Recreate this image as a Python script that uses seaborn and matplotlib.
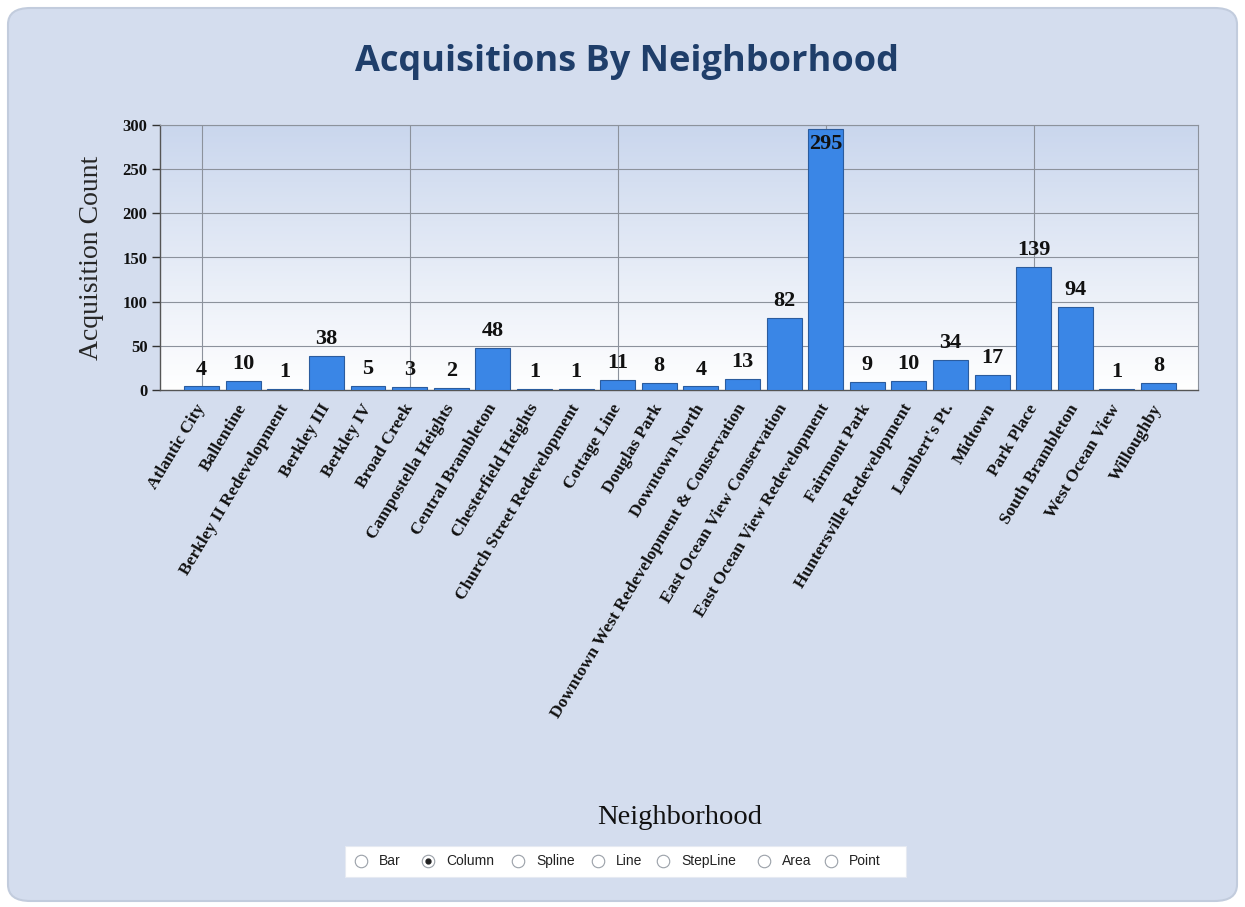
import numpy as np
import pandas as pd
import matplotlib
matplotlib.use("Agg")
import matplotlib.pyplot as plt
import seaborn as sns
from matplotlib.patches import FancyBboxPatch, Rectangle
from matplotlib.lines import Line2D

neighborhoods = [
    "Atlantic City", "Ballentine", "Berkley II Redevelopment", "Berkley III",
    "Berkley IV", "Broad Creek", "Campostella Heights", "Central Brambleton",
    "Chesterfield Heights", "Church Street Redevelopment", "Cottage Line",
    "Douglas Park", "Downtown North", "Downtown West Redevelopment & Conservation",
    "East Ocean View Conservation", "East Ocean View Redevelopment",
    "Fairmont Park", "Huntersville Redevelopment", "Lambert's Pt.", "Midtown",
    "Park Place", "South Brambleton", "West Ocean View", "Willoughby",
]
counts = [4, 10, 1, 38, 5, 3, 2, 48, 1, 1, 11, 8, 4, 13, 82, 295, 9, 10, 34, 17, 139, 94, 1, 8]
y_ticks = [0, 50, 100, 150, 200, 250, 300]
chart_types = ["Bar", "Column", "Spline", "Line", "StepLine", "Area", "Point"]
selected_type = "Column"

df = pd.DataFrame({"Neighborhood": neighborhoods, "Count": counts})

sns.set_theme(style="white")
plt.rcParams["font.family"] = ["Liberation Serif", "DejaVu Serif"]

W, H = 1245, 907
fig = plt.figure(figsize=(W / 100, H / 100), dpi=100)
fig.patch.set_facecolor("white")

# outer rounded panel
panel = FancyBboxPatch((8 / W, 6 / H), 1229 / W, 893 / H,
                       boxstyle="round,pad=0,rounding_size=0.018",
                       transform=fig.transFigure, facecolor="#D4DDEE",
                       edgecolor="#C2CCDD", linewidth=1.5, zorder=-10)
fig.patches.append(panel)

ax = fig.add_axes([160 / W, 1 - 390 / H, 1038 / W, 265 / H])
ax.set_zorder(2)
ax.set_facecolor("none")

# gradient background of plot area
grad = np.linspace(0, 1, 256).reshape(-1, 1)
top_c = np.array([0.79, 0.84, 0.93])
bot_c = np.array([1.0, 1.0, 1.0])
img = top_c[None, None, :] * (1 - grad[:, :, None]) + bot_c[None, None, :] * grad[:, :, None]
ax.imshow(img, extent=[0, 1, 0, 1], transform=ax.transAxes, aspect="auto", zorder=0)

sns.barplot(data=df, x="Neighborhood", y="Count", ax=ax, color="#3A86E6",
            saturation=1, width=0.84, edgecolor="#2B5C9E", linewidth=0.8, zorder=3)

ax.set_xlim(-1, 23.95)
ax.set_ylim(0, 300)
ax.set_yticks(y_ticks)
ax.set_yticklabels([str(v) for v in y_ticks], fontsize=12, fontweight="bold", color="#111111")

ax.set_xticks(range(len(neighborhoods)))
ax.set_xticklabels(neighborhoods, rotation=59, ha="right", va="center",
                   rotation_mode="anchor", fontsize=12.5, fontweight="bold", color="#111111")
ax.tick_params(axis="x", which="major", length=0, pad=11)
ax.set_xticks(range(0, len(neighborhoods), 5), minor=True)
ax.tick_params(axis="x", which="minor", length=8, width=1, color="#333333", direction="out", bottom=True)
ax.tick_params(axis="y", length=6, width=1, color="#333333", direction="out", pad=3, left=True)

for v in y_ticks[1:]:
    ax.axhline(v, color="#8C929C", linewidth=0.8, zorder=1)
for xv in range(0, len(neighborhoods), 5):
    ax.axvline(xv, color="#8C929C", linewidth=0.8, zorder=1)

for s in ["top", "right"]:
    ax.spines[s].set_visible(True)
    ax.spines[s].set_color("#8C929C")
    ax.spines[s].set_linewidth(0.8)
for s in ["left", "bottom"]:
    ax.spines[s].set_color("#555555")
    ax.spines[s].set_linewidth(1.0)

# value labels
for patch, val in zip(ax.patches, counts):
    cx = patch.get_x() + patch.get_width() / 2
    top = patch.get_height()
    if top > 270:
        ax.annotate(str(val), (cx, top), xytext=(0, -3), textcoords="offset points",
                    ha="center", va="top", fontsize=16, fontweight="bold", color="#111111", zorder=5)
    else:
        ax.annotate(str(val), (cx, top), xytext=(0, 5), textcoords="offset points",
                    ha="center", va="bottom", fontsize=16, fontweight="bold", color="#111111", zorder=5)

ax.set_xlabel("")
ax.set_ylabel("Acquisition Count", fontsize=20)
ax.yaxis.set_label_coords((104 - 160) / 1038, 0.5)
fig.text(680 / W, 1 - 818 / H, "Neighborhood", ha="center", va="center", fontsize=20.5, color="#111111")

fig.text(627 / W, 1 - 62 / H, "Acquisitions By Neighborhood", ha="center", va="center",
         fontsize=26, fontweight="bold", color="#1F3E6A", family=["Open Sans", "DejaVu Sans"])

# radio-button bar
fig.patches.append(Rectangle((345 / W, 1 - 877 / H), 561 / W, 31 / H, transform=fig.transFigure,
                             facecolor="white", edgecolor="#E6EAF2", linewidth=0.8, zorder=-5))
circle_x = [361, 428, 518, 598, 663, 764, 831]
for cxp, name in zip(circle_x, chart_types):
    yy = 1 - 861 / H
    fig.add_artist(Line2D([cxp / W], [yy], marker="o", markersize=9, markerfacecolor="white",
                          markeredgecolor="#9AA0A8", markeredgewidth=0.8, transform=fig.transFigure))
    if name == selected_type:
        fig.add_artist(Line2D([cxp / W], [yy], marker="o", markersize=3.5, markerfacecolor="#222222",
                              markeredgecolor="#222222", transform=fig.transFigure))
    fig.text((cxp + 18) / W, yy, name, ha="left", va="center", fontsize=10, color="#222222",
             family=["Liberation Sans", "DejaVu Sans"])

fig.savefig("out.png", dpi=100, facecolor=fig.get_facecolor())
